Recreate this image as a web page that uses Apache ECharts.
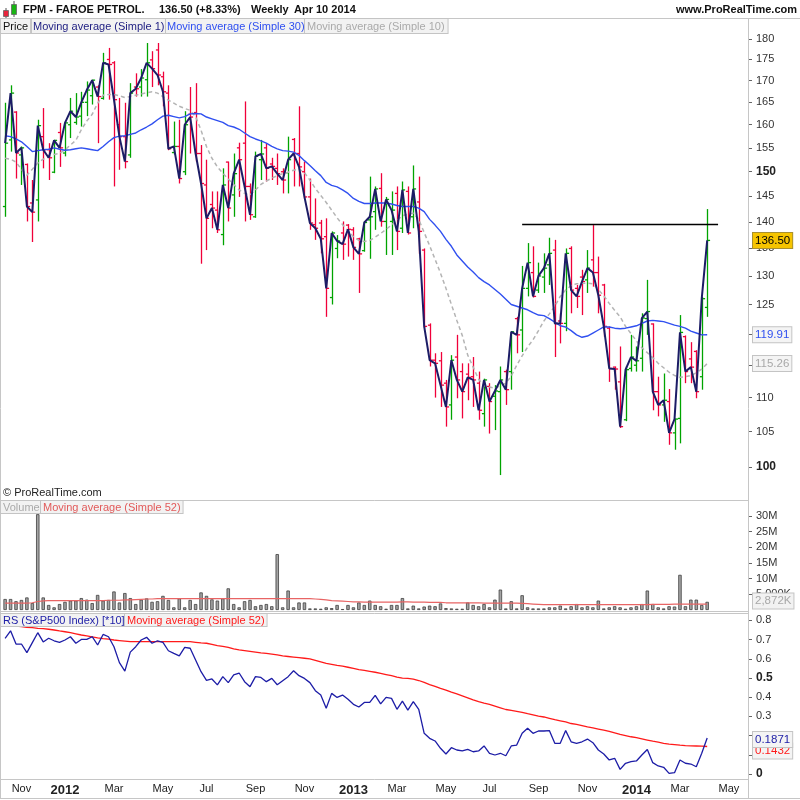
<!DOCTYPE html>
<html><head><meta charset="utf-8">
<script src="https://cdn.jsdelivr.net/npm/echarts@6/dist/echarts.min.js"></script>
<style>html,body{margin:0;padding:0;background:#fff}#c{width:800px;height:800px}</style>
</head><body><div id="c"></div>
<script>
// ---------- DATA ----------
const firstWeek = '2011-10-17';   // first weekly bar (Monday)
const slotCount = 137;            // weekly slots on the time axis (incl. empty future)
const opens = [143.0,156.7,162.8,153.5,151.5,143.7,144.3,157.4,154.6,149.9,
158.3,153.9,160.0,160.5,161.9,165.0,166.5,168.5,165.9,175.0,
174.2,160.0,157.4,153.5,168.5,168.5,170.2,174.9,177.3,170.9,
167.1,154.0,155.3,150.0,162.3,162.7,153.8,147.3,143.4,142.3,
137.6,152.0,145.3,155.0,156.0,147.0,141.0,152.5,155.0,151.6,
150.7,150.0,149.8,156.8,153.8,150.0,144.9,139.5,139.8,137.2,
126.2,135.0,137.9,139.4,138.5,136.8,134.6,140.4,142.0,146.6,
140.1,140.1,145.6,138.8,146.0,141.0,143.9,134.7,121.5,115.8,
115.7,112.2,108.9,116.3,114.0,113.6,113.2,112.2,107.6,111.7,
110.2,110.9,114.0,114.0,122.6,120.7,127.8,130.6,127.5,129.8,
132.0,134.7,122.2,121.8,135.0,127.8,129.8,129.3,132.9,130.6,
128.4,121.0,114.7,112.4,106.7,114.5,115.0,116.1,122.6,121.7,
110.9,108.9,109.4,104.8,106.9,119.6,116.0,117.2,113.2,124.5];
const highs = [164.9,168.9,163.0,155.3,151.7,148.3,161.1,163.7,156.0,156.7,
160.4,160.7,166.0,167.1,167.4,169.8,170.2,168.9,176.6,177.8,
174.6,166.0,164.9,169.4,171.7,172.7,179.0,177.0,179.0,172.1,
168.9,160.7,161.1,163.0,168.5,169.4,155.6,152.5,146.0,146.0,
150.7,152.1,153.8,156.1,165.2,147.6,154.2,156.7,156.0,152.9,
153.8,150.7,157.4,157.1,164.1,152.1,148.6,144.6,140.4,140.7,
138.2,137.5,140.1,139.6,139.0,137.0,140.1,149.0,147.0,149.7,
144.9,146.0,147.0,148.0,147.0,151.3,149.0,135.0,121.8,116.9,
117.1,112.7,116.6,119.9,115.3,115.3,116.3,114.0,112.9,112.2,
111.9,114.8,114.3,120.5,122.9,131.8,136.0,135.4,132.4,134.1,
137.0,136.6,123.5,135.0,135.4,128.4,131.1,134.7,139.4,133.5,
128.6,121.3,114.8,118.0,114.8,119.9,118.0,123.5,129.3,121.8,
113.2,113.7,111.3,106.9,123.2,119.8,118.7,117.4,126.3,142.5];
const lows = [141.0,154.2,148.6,147.3,140.1,136.2,140.1,150.7,148.3,149.7,
151.0,153.2,157.1,160.0,159.6,161.9,164.5,156.0,165.6,165.6,
147.0,150.4,150.7,152.9,166.3,166.3,166.3,168.5,168.9,164.1,
154.5,153.6,147.6,149.3,153.8,152.1,132.2,134.7,138.8,137.9,
135.6,140.1,141.0,144.9,140.1,140.4,140.8,148.3,148.0,148.3,
147.3,145.6,145.6,147.0,147.0,144.6,138.5,136.6,134.1,122.9,
125.0,133.2,132.9,133.5,132.9,127.0,134.4,133.1,138.5,139.1,
133.8,133.8,134.7,137.9,137.6,138.8,134.0,121.0,114.8,110.0,
108.6,105.7,106.7,109.9,106.9,109.6,108.6,106.7,105.7,104.7,
105.2,98.9,108.9,111.2,116.9,117.1,126.4,126.2,127.0,127.0,
128.4,116.3,118.5,120.5,123.5,124.4,123.2,127.0,128.1,123.5,
119.6,112.4,111.2,105.5,106.5,114.0,114.0,114.0,119.9,108.1,
107.2,106.4,103.1,102.4,103.3,112.2,112.2,109.9,111.2,122.9];
const closes = [156.0,167.1,153.9,155.0,143.0,141.9,159.8,154.6,152.9,156.6,
155.0,160.4,163.0,161.7,165.0,167.8,170.1,166.3,174.2,173.8,
165.6,157.4,152.1,167.1,168.1,170.6,174.2,172.8,171.3,167.4,
154.8,155.3,148.6,160.0,161.7,153.8,147.6,140.7,142.7,138.5,
147.3,142.7,149.6,152.5,147.0,141.4,153.2,153.7,150.7,151.1,
149.6,148.3,152.5,153.8,151.0,144.9,139.8,138.8,136.8,127.8,
137.9,136.4,135.8,138.6,135.2,134.0,139.9,141.0,146.5,140.1,
144.4,142.3,138.2,146.3,137.9,146.5,138.2,121.3,115.8,115.3,
111.9,108.6,115.8,112.7,110.9,113.1,112.7,108.1,112.7,109.4,
111.0,112.7,111.2,120.4,119.9,127.8,132.4,126.4,130.0,131.4,
134.1,121.8,121.8,134.1,127.5,126.4,129.0,131.4,130.6,126.6,
121.3,114.5,114.4,105.7,114.3,116.3,115.7,122.7,123.8,110.9,
108.9,109.6,104.8,106.8,120.3,114.0,114.7,110.9,126.0,136.5];
const ma30 = [157.6,157.4,156.9,156.3,155.3,154.2,154.4,154.6,154.7,155.0,
154.7,154.5,154.6,154.8,155.0,154.8,154.6,154.4,155.3,156.3,
157.2,157.5,157.6,157.9,158.2,158.9,159.5,160.2,161.1,161.9,
162.1,161.8,161.5,161.8,162.4,162.5,162.4,161.7,161.3,160.9,
160.5,159.8,159.5,159.0,158.2,157.4,156.9,156.5,156.0,155.3,
154.8,154.4,154.3,154.1,153.4,152.3,151.3,150.2,149.2,147.8,
147.2,146.9,146.3,145.6,144.6,144.0,143.6,143.6,143.7,143.7,
143.7,143.5,143.2,143.0,143.0,143.0,142.7,142.0,140.5,139.4,
138.2,136.7,135.4,133.8,132.7,131.6,130.7,129.7,129.0,128.4,
127.6,126.8,125.9,125.0,124.7,124.4,124.1,123.6,123.2,123.1,
122.6,122.0,121.4,121.2,120.6,119.9,119.5,119.7,120.2,120.7,
121.2,121.2,121.0,120.9,121.0,121.2,121.4,121.8,122.2,122.3,
122.2,122.1,121.8,121.5,121.3,121.0,120.5,120.2,119.9,119.91];
const ma10 = [152.8,152.6,152.0,150.5,149.3,150.5,151.8,152.6,153.1,153.6,
153.8,154.6,155.6,156.6,158.9,160.8,162.3,164.8,166.6,166.8,
166.8,166.5,166.1,166.3,166.6,166.9,167.2,167.4,167.1,166.3,
165.5,164.8,164.1,163.6,163.2,161.8,158.8,155.3,152.8,151.0,
149.7,148.5,147.4,146.3,145.6,145.3,146.3,147.4,148.1,148.7,
149.2,149.6,149.9,150.3,150.6,149.8,148.3,146.6,145.2,143.8,
142.3,140.8,139.5,138.3,137.2,136.5,136.3,136.5,137.1,137.8,
138.6,139.4,140.3,141.2,141.5,141.7,140.5,138.0,135.5,133.0,
130.5,127.8,125.0,122.3,119.8,116.6,114.7,112.8,111.8,111.6,
111.4,111.8,112.2,113.3,115.0,116.5,117.9,119.1,120.6,122.2,
123.4,124.7,126.4,127.5,128.3,128.6,128.7,128.7,128.6,127.6,
126.5,125.2,124.0,122.9,121.3,120.1,118.9,117.8,117.0,116.2,
115.3,114.6,113.9,113.4,113.1,113.2,113.4,113.8,114.4,115.26];
const volumeM = [3.5,3.5,2.8,3.2,4.0,2.2,30.5,4.0,1.6,0.85,
1.9,2.6,3.0,3.0,3.8,3.3,2.2,4.8,3.0,3.2,
5.9,2.4,5.4,3.8,1.9,3.3,3.7,2.6,2.8,4.5,
3.2,0.85,3.7,0.85,3.2,1.9,5.6,4.5,3.4,3.0,
3.7,6.9,1.9,0.85,2.8,3.2,1.2,1.6,1.9,1.2,
17.8,0.85,6.2,0.85,2.4,2.4,0.5,0.5,0.4,0.85,
0.6,1.6,0.3,1.6,0.85,2.4,1.6,3.0,1.6,1.2,
0.4,1.6,1.6,3.8,0.5,1.4,0.5,1.1,1.4,1.2,
2.1,0.6,0.5,0.4,0.4,2.4,1.6,1.2,1.9,0.85,
3.3,6.5,0.5,2.8,0.5,4.7,0.85,0.5,0.5,0.5,
0.85,0.85,1.4,0.5,1.2,1.9,0.85,1.2,0.85,3.0,
0.5,0.85,1.2,0.85,0.4,0.85,1.2,1.9,6.2,1.9,
0.85,0.5,1.2,1.1,11.2,1.2,3.3,3.3,1.6,2.6];
const volumeMA52 = [2.2,2.2,2.2,2.2,2.2,2.3,2.7,2.9,3.0,3.0,
3.0,3.0,3.0,3.0,3.0,3.0,3.0,3.0,3.0,3.1,
3.1,3.1,3.2,3.2,3.3,3.4,3.5,3.5,3.6,3.6,
3.6,3.6,3.6,3.6,3.6,3.6,3.6,3.6,3.6,3.6,
3.6,3.6,3.6,3.6,3.6,3.6,3.6,3.6,3.6,3.6,
3.6,3.6,3.6,3.6,3.6,3.6,3.6,3.5,3.4,3.2,
3.0,2.9,2.8,2.7,2.6,2.6,2.5,2.5,2.5,2.5,
2.5,2.5,2.5,2.6,2.6,2.5,2.5,2.5,2.4,2.4,
2.4,2.3,2.3,2.3,2.3,2.3,2.3,2.3,2.2,2.2,
2.2,2.2,2.2,2.2,2.2,2.1,2.0,1.9,1.8,1.7,
1.7,1.7,1.7,1.7,1.7,1.7,1.7,1.7,1.7,1.7,
1.7,1.7,1.7,1.7,1.7,1.7,1.7,1.7,1.7,1.8,
1.8,1.8,1.8,1.9,1.9,1.9,1.9,1.9,1.9,1.9];
const rs = [0.707,0.746,0.677,0.677,0.632,0.684,0.736,0.688,0.707,0.694,
0.686,0.698,0.715,0.681,0.701,0.701,0.715,0.672,0.727,0.715,
0.663,0.580,0.536,0.635,0.663,0.698,0.712,0.681,0.694,0.686,
0.642,0.628,0.615,0.660,0.655,0.594,0.533,0.488,0.495,0.464,
0.507,0.476,0.516,0.526,0.481,0.455,0.507,0.503,0.481,0.498,
0.465,0.486,0.507,0.538,0.512,0.498,0.476,0.434,0.411,0.342,
0.420,0.399,0.411,0.389,0.363,0.349,0.373,0.373,0.410,0.365,
0.399,0.394,0.337,0.380,0.333,0.377,0.337,0.212,0.186,0.172,
0.134,0.104,0.137,0.125,0.120,0.128,0.116,0.120,0.146,0.108,
0.099,0.108,0.095,0.146,0.151,0.212,0.238,0.212,0.224,0.224,
0.226,0.160,0.160,0.226,0.168,0.160,0.168,0.182,0.163,0.125,
0.104,0.073,0.082,0.024,0.056,0.064,0.068,0.099,0.128,0.059,
0.042,0.035,0.003,0.007,0.073,0.056,0.052,0.038,0.108,0.1871];
const rsMA52 = [0.776,0.773,0.771,0.768,0.764,0.762,0.759,0.757,0.754,0.750,
0.745,0.741,0.736,0.730,0.724,0.719,0.714,0.709,0.705,0.702,
0.698,0.695,0.692,0.689,0.689,0.689,0.689,0.689,0.689,0.689,
0.689,0.689,0.689,0.689,0.689,0.686,0.683,0.681,0.675,0.669,
0.665,0.660,0.652,0.647,0.643,0.639,0.635,0.631,0.628,0.624,
0.620,0.615,0.612,0.609,0.606,0.603,0.600,0.592,0.584,0.576,
0.571,0.566,0.562,0.556,0.550,0.544,0.540,0.535,0.530,0.524,
0.518,0.512,0.505,0.499,0.498,0.494,0.487,0.477,0.466,0.456,
0.446,0.437,0.426,0.417,0.407,0.397,0.386,0.377,0.369,0.363,
0.354,0.345,0.336,0.331,0.326,0.321,0.314,0.308,0.302,0.297,
0.290,0.283,0.277,0.271,0.263,0.258,0.252,0.245,0.240,0.234,
0.228,0.222,0.214,0.206,0.200,0.194,0.189,0.183,0.177,0.171,
0.166,0.160,0.156,0.153,0.150,0.148,0.147,0.146,0.145,0.1432];
const priceTicks = [100,105,110,115,120,125,130,135,140,145,150,155,160,165,170,175,180];
const volumeTicks = [5,10,15,20,25,30];
const rsTicks = [0,0.1,0.2,0.3,0.4,0.5,0.6,0.7,0.8];
const resistanceLevel = 139.6;
const resistanceFrom = 95, resistanceTo = 131;
const lastClose = 136.5, lastMA30 = 119.91, lastMA10 = 115.26;
const lastVolMA = 2.872, lastRS = 0.1871, lastRSMA = 0.1432;
const monthNames = ['Jan','Feb','Mar','Apr','May','Jun','Jul','Aug','Sep','Oct','Nov','Dec'];

// ---------- BUILD ----------
const categories = [];
(function(){ const p = firstWeek.split('-').map(Number); const t0 = Date.UTC(p[0], p[1]-1, p[2]);
  for (let k = 0; k < slotCount; k++) categories.push(new Date(t0 + k*7*86400000).toISOString().slice(0,10)); })();
const ohlc = opens.map((o,k) => [k, o, highs[k], lows[k], closes[k]]);

const FONT = '"Liberation Sans", Arial, Helvetica, sans-serif';
const GREEN = '#00a400', RED = '#f0003a';
const GRID_L = 2.4, GRID_R = 52;
const PMIN = 95.57, PMAX = 185.0;
const RSMIN = -0.0286, RSMAX = 0.836;
const FRAME = '#c6c6c6';

function renderOHLC(params, api) {
  const i = api.value(0), o = api.value(1), h = api.value(2), l = api.value(3), c = api.value(4);
  const pH = api.coord([i, h]), pL = api.coord([i, l]), pO = api.coord([i, o]), pC = api.coord([i, c]);
  const x = Math.round(pH[0]) + 0.5;
  const st = {stroke: c >= o ? GREEN : RED, lineWidth: 1.3, fill: null};
  return {type: 'group', children: [
    {type: 'line', shape: {x1: x, y1: pH[1], x2: x, y2: pL[1]}, style: st},
    {type: 'line', shape: {x1: x - 2.6, y1: pO[1], x2: x, y2: pO[1]}, style: st},
    {type: 'line', shape: {x1: x, y1: pC[1], x2: x + 2.6, y2: pC[1]}, style: st}
  ]};
}

function valueLabel(text, color, bg, border) {
  return {show: true, position: 'end', distance: 5, formatter: text, color: color,
    backgroundColor: bg, borderColor: border, borderWidth: 1, padding: [2, 2, 1, 2],
    fontSize: 11.5, fontFamily: FONT};
}
const hiddenLine = {color: 'rgba(0,0,0,0)', width: 1, type: 'solid'};

function xAxisFor(g, showLabels) {
  return {type: 'category', gridIndex: g, data: categories, boundaryGap: true,
    axisLine: {show: false}, axisTick: {show: false}, splitLine: {show: false},
    axisLabel: showLabels ? {
      interval: (idx, val) => { const m = +val.slice(5,7), d = +val.slice(8,10); return d <= 7 && m % 2 === 1; },
      formatter: (val) => { const m = +val.slice(5,7); return m === 1 ? '{b|' + val.slice(0,4) + '}' : monthNames[m-1]; },
      color: '#222', fontSize: 11, fontFamily: FONT, margin: 4,
      rich: {b: {fontWeight: 'bold', fontSize: 13, color: '#222', fontFamily: FONT}}
    } : {show: false}};
}

const yTick = {show: true, length: 4, lineStyle: {color: '#666', width: 1}};
const boldRich = {b: {fontWeight: 'bold', fontSize: 12, color: '#222', fontFamily: FONT}};

const option = {
  animation: false,
  backgroundColor: '#fff',
  grid: [
    {left: GRID_L, right: GRID_R, top: 19, bottom: 300},
    {left: GRID_L, right: GRID_R, top: 501, bottom: 190},
    {left: GRID_L, right: GRID_R, top: 613.5, bottom: 20.5}
  ],
  xAxis: [xAxisFor(0, false), xAxisFor(1, false), xAxisFor(2, true)],
  yAxis: [
    // data axis for prices (logarithmic), hidden
    {type: 'log', logBase: 10, gridIndex: 0, min: PMIN, max: PMAX, show: false, splitLine: {show: false}},
    // label axis for prices (log10 space)
    {type: 'value', gridIndex: 0, position: 'right', min: Math.log10(PMIN), max: Math.log10(PMAX),
      axisLine: {show: false}, splitLine: {show: false},
      axisTick: Object.assign({customValues: priceTicks.map(v => Math.log10(v))}, yTick),
      axisLabel: {customValues: priceTicks.map(v => Math.log10(v)), margin: 8, color: '#333', fontSize: 11, fontFamily: FONT,
        formatter: (v) => { const p = Math.round(Math.pow(10, v)); return (p === 100 || p === 150) ? '{b|' + p + '}' : String(p); },
        rich: boldRich}},
    {type: 'value', gridIndex: 1, position: 'right', min: 0, max: 34.7,
      axisLine: {show: false}, splitLine: {show: false},
      axisTick: Object.assign({customValues: volumeTicks}, yTick),
      axisLabel: {customValues: volumeTicks, margin: 8, color: '#333', fontSize: 11, fontFamily: FONT,
        formatter: (v) => v === 5 ? '5,000K' : v + 'M'}},
    {type: 'value', gridIndex: 2, position: 'right', min: RSMIN, max: RSMAX,
      axisLine: {show: false}, splitLine: {show: false},
      axisTick: Object.assign({customValues: rsTicks}, yTick),
      axisLabel: {customValues: rsTicks, margin: 8, color: '#333', fontSize: 11, fontFamily: FONT,
        formatter: (v) => { const s = v === 0 ? '0' : v.toFixed(1); return (v === 0 || Math.abs(v - 0.5) < 1e-9) ? '{b|' + s + '}' : s; },
        rich: boldRich}}
  ],
  series: [
    {name: 'Price', type: 'custom', xAxisIndex: 0, yAxisIndex: 0, data: ohlc,
      encode: {x: 0, y: [1, 2, 3, 4]}, renderItem: renderOHLC, z: 2},
    {name: 'MA10', type: 'line', xAxisIndex: 0, yAxisIndex: 0, data: ma10, symbol: 'none', clip: false,
      lineStyle: {color: '#b4b4b4', width: 1.5, type: [4, 3]}, z: 3,
      markLine: {silent: true, symbol: ['none', 'none'], animation: false,
        data: [{yAxis: lastMA10, lineStyle: hiddenLine, label: valueLabel('115.26', '#a8a8a8', '#f4f4f4', '#c4c4c4')}]}},
    {name: 'MA30', type: 'line', xAxisIndex: 0, yAxisIndex: 0, data: ma30, symbol: 'none', clip: false,
      lineStyle: {color: '#3050f0', width: 1.4}, z: 4,
      markLine: {silent: true, symbol: ['none', 'none'], animation: false,
        data: [{yAxis: lastMA30, lineStyle: hiddenLine, label: valueLabel('119.91', '#2f4ff0', '#f4f4f4', '#c4c4c4')}]}},
    {name: 'Close', type: 'line', xAxisIndex: 0, yAxisIndex: 0, data: closes, symbol: 'none', clip: false,
      lineStyle: {color: '#1c1c66', width: 2}, z: 5,
      markLine: {silent: true, symbol: ['none', 'none'], animation: false,
        data: [
          [{coord: [resistanceFrom, resistanceLevel], lineStyle: {color: '#000', width: 1.3, type: 'solid'}, label: {show: false}},
           {coord: [resistanceTo, resistanceLevel]}],
          {yAxis: lastClose, lineStyle: hiddenLine, label: valueLabel('136.50', '#000', '#f6c400', '#a89030')}
        ]}},
    {name: 'Volume', type: 'bar', xAxisIndex: 1, yAxisIndex: 2, data: volumeM, barWidth: 3.4,
      itemStyle: {color: '#a4a4a4', borderColor: '#404040', borderWidth: 0.8}, z: 2},
    {name: 'VolMA52', type: 'line', xAxisIndex: 1, yAxisIndex: 2, data: volumeMA52, symbol: 'none', clip: false,
      lineStyle: {color: '#e86464', width: 1.2}, z: 3,
      markLine: {silent: true, symbol: ['none', 'none'], animation: false,
        data: [{yAxis: lastVolMA, lineStyle: hiddenLine, label: valueLabel('2,872K', '#a8a8a8', '#f2f2f2', '#c4c4c4')}]}},
    {name: 'RSMA52', type: 'line', xAxisIndex: 2, yAxisIndex: 3, data: rsMA52, symbol: 'none', clip: false,
      lineStyle: {color: '#ff1a1a', width: 1.3}, z: 3,
      markLine: {silent: true, symbol: ['none', 'none'], animation: false,
        data: [{yAxis: lastRSMA - 0.026, lineStyle: hiddenLine, label: valueLabel(String(lastRSMA), '#ff1a1a', '#f4f4f4', '#c4c4c4')}]}},
    {name: 'RS', type: 'line', xAxisIndex: 2, yAxisIndex: 3, data: rs, symbol: 'none', clip: false,
      lineStyle: {color: '#1c1ca6', width: 1.3}, z: 4,
      markLine: {silent: true, symbol: ['none', 'none'], animation: false,
        data: [{yAxis: lastRS - 0.010, lineStyle: hiddenLine, label: valueLabel(String(lastRS), '#1c1ca6', '#f4f4f4', '#c4c4c4')}]}}
  ],
  graphic: [
    // frames
    {type: 'line', z: 50, silent: true, shape: {x1: 0, y1: 18.5, x2: 800, y2: 18.5}, style: {stroke: FRAME, lineWidth: 1}},
    {type: 'line', z: 50, silent: true, shape: {x1: 0.5, y1: 18.5, x2: 0.5, y2: 798.5}, style: {stroke: FRAME, lineWidth: 1}},
    {type: 'line', z: 50, silent: true, shape: {x1: 748.5, y1: 18.5, x2: 748.5, y2: 798.5}, style: {stroke: FRAME, lineWidth: 1}},
    {type: 'line', z: 50, silent: true, shape: {x1: 0, y1: 500.5, x2: 748.5, y2: 500.5}, style: {stroke: FRAME, lineWidth: 1}},
    {type: 'line', z: 50, silent: true, shape: {x1: 0, y1: 611.5, x2: 748.5, y2: 611.5}, style: {stroke: FRAME, lineWidth: 1}},
    {type: 'line', z: 50, silent: true, shape: {x1: 0, y1: 613.5, x2: 748.5, y2: 613.5}, style: {stroke: FRAME, lineWidth: 1}},
    {type: 'line', z: 50, silent: true, shape: {x1: 0, y1: 779.5, x2: 748.5, y2: 779.5}, style: {stroke: FRAME, lineWidth: 1}},
    {type: 'line', z: 50, silent: true, shape: {x1: 0, y1: 798.5, x2: 800, y2: 798.5}, style: {stroke: FRAME, lineWidth: 1}},
    // header icon
    {type: 'line', z: 60, silent: true, shape: {x1: 6, y1: 8, x2: 6, y2: 18}, style: {stroke: '#555', lineWidth: 1}},
    {type: 'rect', z: 61, silent: true, shape: {x: 3.5, y: 10.5, width: 5, height: 6}, style: {fill: '#e8243c', stroke: '#666', lineWidth: 0.8}},
    {type: 'line', z: 60, silent: true, shape: {x1: 14, y1: 1, x2: 14, y2: 17}, style: {stroke: '#555', lineWidth: 1}},
    {type: 'rect', z: 61, silent: true, shape: {x: 11.5, y: 4.5, width: 5, height: 10}, style: {fill: '#19b414', stroke: '#666', lineWidth: 0.8}},
    // header texts
    {type: 'text', z: 60, silent: true, x: 23, y: 4, style: {text: 'FPM - FAROE PETROL.', font: 'bold 11px ' + FONT, fill: '#111'}},
    {type: 'text', z: 60, silent: true, x: 159, y: 4, style: {text: '136.50 (+8.33%)', font: 'bold 11px ' + FONT, fill: '#111'}},
    {type: 'text', z: 60, silent: true, x: 251, y: 4, style: {text: 'Weekly', font: 'bold 11px ' + FONT, fill: '#111'}},
    {type: 'text', z: 60, silent: true, x: 294, y: 4, style: {text: 'Apr 10 2014', font: 'bold 11px ' + FONT, fill: '#111'}},
    {type: 'text', z: 60, silent: true, x: 797, y: 4, style: {text: 'www.ProRealTime.com', font: 'bold 11px ' + FONT, fill: '#111', align: 'right'}},
    // price legend
    {type: 'text', z: 60, silent: true, x: 1, y: 19, style: {text: 'Price', font: '11px ' + FONT, fill: '#111', backgroundColor: '#f2f2f2', borderColor: '#c4c4c4', borderWidth: 1, padding: [2, 2, 1, 2]}},
    {type: 'text', z: 60, silent: true, x: 32, y: 19, style: {text: 'Moving average (Simple 1)', font: '11px ' + FONT, fill: '#1c1c80', backgroundColor: '#f2f2f2', borderColor: '#c4c4c4', borderWidth: 1, padding: [2, 1, 1, 1]}},
    {type: 'text', z: 60, silent: true, x: 166, y: 19, style: {text: 'Moving average (Simple 30)', font: '11px ' + FONT, fill: '#2f4ff0', backgroundColor: '#f2f2f2', borderColor: '#c4c4c4', borderWidth: 1, padding: [2, 1, 1, 1]}},
    {type: 'text', z: 61, silent: true, x: 305, y: 19, style: {text: 'Moving average (Simple 10)', font: '11px ' + FONT, fill: '#aaaaaa', backgroundColor: '#f2f2f2', borderColor: '#c4c4c4', borderWidth: 1, padding: [2, 3, 1, 2]}},
    {type: 'text', z: 60, silent: true, x: 3, y: 487, style: {text: '\u00a9 ProRealTime.com', font: '11px ' + FONT, fill: '#222'}},
    // volume legend
    {type: 'text', z: 60, silent: true, x: 1, y: 501, style: {text: 'Volume', font: '11px ' + FONT, fill: '#aaaaaa', backgroundColor: '#f2f2f2', borderColor: '#c4c4c4', borderWidth: 1, padding: [1, 2, 0, 2]}},
    {type: 'text', z: 60, silent: true, x: 41, y: 501, style: {text: 'Moving average (Simple 52)', font: '11px ' + FONT, fill: '#e25a5a', backgroundColor: '#f2f2f2', borderColor: '#c4c4c4', borderWidth: 1, padding: [1, 2, 0, 2]}},
    // RS legend
    {type: 'text', z: 60, silent: true, x: 1, y: 614, style: {text: 'RS (S&P500 Index) [*10]', font: '11px ' + FONT, fill: '#1c1ca6', backgroundColor: '#f2f2f2', borderColor: '#c4c4c4', borderWidth: 1, padding: [1, 2, 0, 2]}},
    {type: 'text', z: 60, silent: true, x: 125, y: 614, style: {text: 'Moving average (Simple 52)', font: '11px ' + FONT, fill: '#ff1a1a', backgroundColor: '#f2f2f2', borderColor: '#c4c4c4', borderWidth: 1, padding: [1, 2, 0, 2]}}
  ]
};

const chart = echarts.init(document.getElementById('c'), null, {renderer: 'canvas', width: 800, height: 800});
chart.setOption(option);
</script>
</body></html>
